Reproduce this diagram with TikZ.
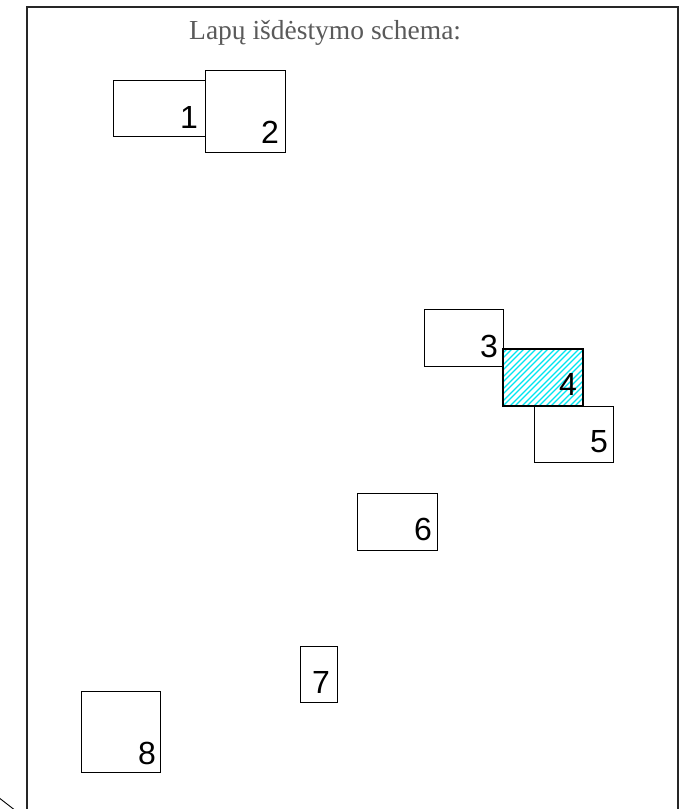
\documentclass[tikz,border=0pt]{standalone}
\usepackage{fontspec}
\setmainfont{Liberation Serif}
\newfontfamily\labfont{Liberation Sans}
\definecolor{titlegray}{HTML}{5A5A5A}
\definecolor{hatchcyan}{HTML}{00E5F0}
\begin{document}
\begin{tikzpicture}[x=1pt,y=-1pt,
  sheet/.style={draw=black, line width=0.9pt, inner sep=0pt, outer sep=0pt, anchor=north west},
  cursheet/.style={sheet, line width=2.2pt},
  sheetlabel/.style={font=\labfont\fontsize{32}{34}\selectfont, inner sep=0pt, anchor=base east},
  frameline/.style={draw=black!85, line width=1.3pt},
  hatch/.style={draw=hatchcyan, line width=1.1pt}]
\useasboundingbox (0,0) rectangle (697,809);
% frame
\draw[frameline] (27,830) -- (27,7) -- (678,7) -- (678,830);
\draw[line width=0.9pt] (-2,797) -- (16,811);
% title
\node[anchor=base west, inner sep=0pt, text=titlegray, font=\fontsize{27.5}{30}\selectfont] (title) at (189,39) {Lapų išdėstymo schema:};
% sheets
\node[sheet, minimum width=92pt, minimum height=56pt] (p1) at (113,80) {};
\node[sheet, minimum width=80pt, minimum height=82pt] (p2) at (205,70) {};
\node[sheet, minimum width=79pt, minimum height=57pt] (p3) at (424,309) {};
\node[sheet, minimum width=79pt, minimum height=56pt] (p5) at (534,406) {};
\node[sheet, minimum width=80pt, minimum height=57pt] (p6) at (357,493) {};
\node[sheet, minimum width=37pt, minimum height=56pt] (p7) at (300,646) {};
\node[sheet, minimum width=79pt, minimum height=81pt] (p8) at (81,691) {};
% current sheet 4 with hatch
\begin{scope}
  \clip (503,349) rectangle (583,406);
  \foreach \i in {0,...,13} {
    \draw[hatch] ({438+12*\i},406) -- ({438+12*\i+57},349);
    \draw[hatch] ({443+12*\i},406) -- ({443+12*\i+57},349);
  }
\end{scope}
\node[cursheet, minimum width=80pt, minimum height=57pt] (p4) at (503,349) {};
% labels
\node[sheetlabel] (l1) at ([xshift=-7pt,yshift=8pt]p1.south east) {1};
\node[sheetlabel] (l2) at ([xshift=-6pt,yshift=9pt]p2.south east) {2};
\node[sheetlabel] (l3) at ([xshift=-5pt,yshift=9pt]p3.south east) {3};
\node[sheetlabel] (l4) at ([xshift=-6pt,yshift=11pt]p4.south east) {4};
\node[sheetlabel] (l5) at ([xshift=-5pt,yshift=10pt]p5.south east) {5};
\node[sheetlabel] (l6) at ([xshift=-5pt,yshift=10pt]p6.south east) {6};
\node[sheetlabel] (l7) at ([xshift=-7pt,yshift=9pt]p7.south east) {7};
\node[sheetlabel] (l8) at ([xshift=-4pt,yshift=8pt]p8.south east) {8};
\end{tikzpicture}
\end{document}
